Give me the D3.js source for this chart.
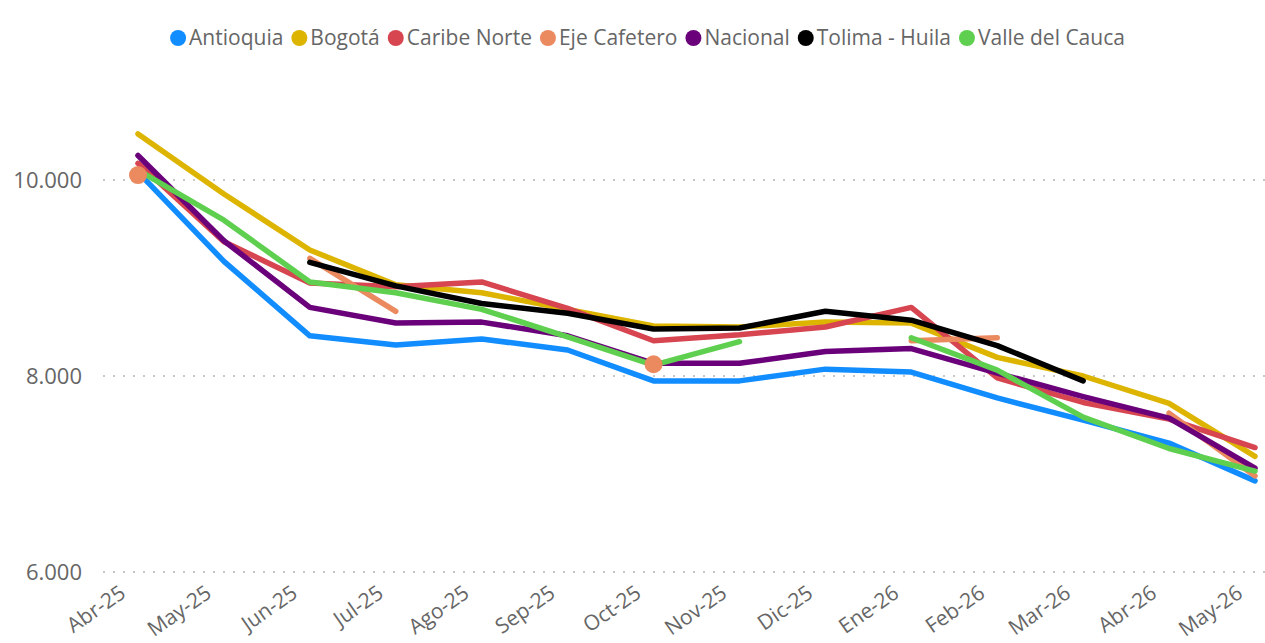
<!DOCTYPE html>
<html>
<head>
<meta charset="utf-8">
<script src="https://cdn.jsdelivr.net/npm/d3@7"></script>
<style>
  body { margin: 0; background: #fff; }
  svg text { font-family: "Segoe UI", "Open Sans", sans-serif; fill: #666; }
</style>
</head>
<body>
<svg id="chart" width="1265" height="643"></svg>
<script>
const width = 1265, height = 643;
const svg = d3.select("#chart");

// months on the x axis
const months = ["Abr-25","May-25","Jun-25","Jul-25","Ago-25","Sep-25","Oct-25","Nov-25","Dic-25","Ene-26","Feb-26","Mar-26","Abr-26","May-26"];
const yTicks = [6000, 8000, 10000];

// values (null = no data)
const antioquia    = [10080, 9170, 8410, 8316, 8378, 8265, 7950, 7950, 8070, 8040, 7776, 7550, 7316, 6930];
const bogota       = [10470, 9857, 9286, 8930, 8850, 8680, 8510, 8500, 8550, 8540, 8190, 8000, 7720, 7180];
const caribeNorte  = [10170, 9370, 8950, 8910, 8960, 8690, 8360, 8420, 8500, 8700, 7980, 7730, 7560, 7270];
const ejeCafetero  = [10050, null, 9200, 8660, null, null, 8120, null, null, 8360, 8390, null, 7620, 6980];
const nacional     = [10250, 9380, 8700, 8540, 8550, 8410, 8130, 8130, 8250, 8280, 8030, 7790, 7570, 7060];
const tolimaHuila  = [null, null, 9160, 8920, 8740, 8640, 8480, 8490, 8660, 8570, 8310, 7950, null, null];
const valleCauca   = [10100, 9590, 8960, 8850, 8680, 8400, 8110, 8350, null, 8390, 8060, 7580, 7260, 7030];

const series = [
  {name: "Antioquia", color: "#118DFF", values: antioquia},
  {name: "Bogotá", color: "#DDB400", values: bogota},
  {name: "Caribe Norte", color: "#D64550", values: caribeNorte},
  {name: "Eje Cafetero", color: "#EB895F", values: ejeCafetero},
  {name: "Nacional", color: "#6B007B", values: nacional},
  {name: "Tolima - Huila", color: "#000000", values: tolimaHuila},
  {name: "Valle del Cauca", color: "#5ECF4E", values: valleCauca}
];

const x = d3.scalePoint()
    .domain(months)
    .range([138, 1255]);

const y = d3.scaleLinear()
    .domain([6000, 10000])
    .range([572, 180]);

const fmt = d3.format(",.0f");
const esFormat = v => fmt(v).replace(/,/g, ".");

// gridlines + y labels
const yAxis = svg.append("g");
yAxis.selectAll("line")
    .data(yTicks)
    .enter().append("line")
    .attr("x1", 103)
    .attr("x2", width)
    .attr("y1", d => y(d))
    .attr("y2", d => y(d))
    .attr("stroke", "#c8c8c8")
    .attr("stroke-width", 2)
    .attr("stroke-dasharray", "2,8");

yAxis.selectAll("text")
    .data(yTicks)
    .enter().append("text")
    .attr("x", 82)
    .attr("y", d => y(d))
    .attr("dy", "0.35em")
    .attr("text-anchor", "end")
    .style("font-size", "22px")
    .text(esFormat);

// x labels, rotated
svg.append("g").selectAll("text")
    .data(months)
    .enter().append("text")
    .attr("transform", d => `translate(${x(d) - 11},${596}) rotate(-35)`)
    .attr("text-anchor", "end")
    .style("font-size", "21px")
    .text(d => d);

// lines
const line = d3.line()
    .defined(d => d.v != null)
    .x(d => x(d.m))
    .y(d => y(d.v));

const lines = svg.append("g");
series.forEach(s => {
  const pts = s.values.map((v, i) => ({m: months[i], v: v}));
  lines.append("path")
      .datum(pts)
      .attr("d", line)
      .attr("fill", "none")
      .attr("stroke", s.color)
      .attr("stroke-width", 5.5)
      .attr("stroke-linejoin", "round")
      .attr("stroke-linecap", "round");
});

// isolated points get a dot
const dots = svg.append("g");
series.forEach(s => {
  s.values.forEach((v, i) => {
    if (v == null) return;
    const prev = i > 0 ? s.values[i - 1] : null;
    const next = i < s.values.length - 1 ? s.values[i + 1] : null;
    if (prev == null && next == null) {
      dots.append("circle")
          .attr("cx", x(months[i]))
          .attr("cy", y(v))
          .attr("r", 9)
          .attr("fill", s.color);
    }
  });
});

// legend
const legend = svg.append("g");
let lx = 0;
series.forEach(s => {
  const g = legend.append("g").attr("transform", `translate(${lx},0)`);
  g.append("circle")
      .attr("cx", 8)
      .attr("cy", 0)
      .attr("r", 8)
      .attr("fill", s.color);
  const t = g.append("text")
      .attr("x", 19)
      .attr("y", 0)
      .attr("dy", "0.35em")
      .style("font-size", "21px")
      .text(s.name);
  lx += 19 + t.node().getComputedTextLength() + 8;
});
legend.attr("transform", `translate(${(164 + 1131) / 2 - (lx - 8) / 2},38)`);
</script>
</body>
</html>
